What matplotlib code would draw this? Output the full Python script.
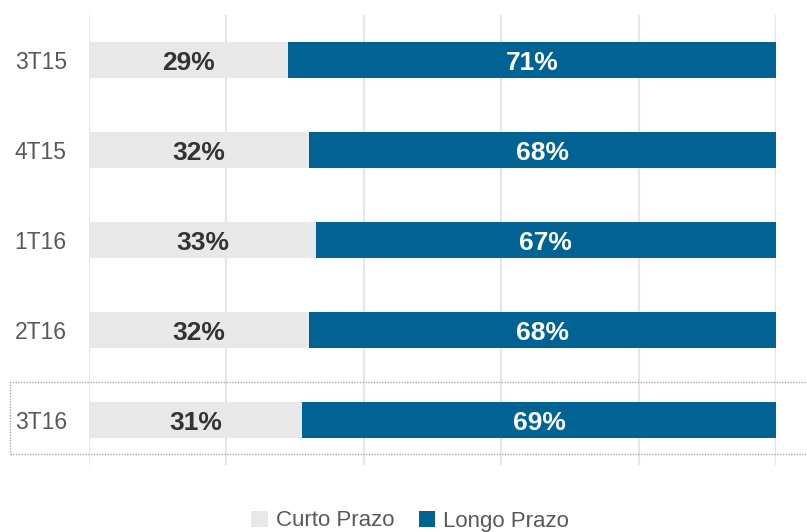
import matplotlib
matplotlib.use("Agg")
import matplotlib.pyplot as plt
from matplotlib.patches import Rectangle
import numpy as np

# Data
periods = ["3T15", "4T15", "1T16", "2T16", "3T16"]
curto_prazo = [29, 32, 33, 32, 31]
longo_prazo = [71, 68, 67, 68, 69]
series_names = ["Curto Prazo", "Longo Prazo"]

GRAY = "#e8e8e8"
BLUE = "#006394"
FONT = ["Liberation Sans Narrow", "Liberation Sans", "DejaVu Sans"]

plt.rcParams["font.family"] = FONT

fig = plt.figure(figsize=(8.07, 5.32), dpi=100)
ax = fig.add_axes([89 / 807, 1 - 465 / 532, 687 / 807, 450 / 532])

y = np.arange(len(periods))
height = 0.4
ax.barh(y, curto_prazo, height, color=GRAY, label=series_names[0], zorder=2)
ax.barh(y, longo_prazo, height, left=curto_prazo, color=BLUE, label=series_names[1], zorder=2)

# percentage labels centred in each segment
for yi, c, l in zip(y, curto_prazo, longo_prazo):
    ax.text(c / 2, yi + 0.03, f"{c}%", ha="center", va="center", fontsize=19,
            fontweight="bold", color="#333333", zorder=3)
    ax.text(c + l / 2, yi + 0.03, f"{l}%", ha="center", va="center", fontsize=19,
            fontweight="bold", color="white", zorder=3)

ax.set_xlim(0, 100)
ax.set_ylim(len(periods) - 0.5, -0.5)
ax.set_xticks(np.arange(0, 101, 20))
ax.set_xticklabels([])
ax.set_yticks(y)
ax.set_yticklabels(periods, fontsize=16.5, color="#595959")
ax.tick_params(axis="y", length=0, pad=16)
ax.tick_params(axis="x", length=0)
ax.grid(axis="x", color="#e6e6e6", linewidth=1.5, zorder=0)
for s in ax.spines.values():
    s.set_visible(False)

# dotted highlight box around last period
fig.patches.append(Rectangle((10 / 807, 1 - 454 / 532), 800 / 807, 72 / 532,
                             transform=fig.transFigure, fill=False,
                             edgecolor="#a8a8a8", linestyle=(0, (1, 1)), linewidth=1))

fig.legend(loc="center", bbox_to_anchor=(410 / 807, 1 - 521 / 532), ncol=2,
           frameon=False, fontsize=16, handlelength=0.75, handleheight=0.75,
           handletextpad=0.35, columnspacing=1.1, labelcolor="#595959")

fig.savefig("out.png", dpi=100)
